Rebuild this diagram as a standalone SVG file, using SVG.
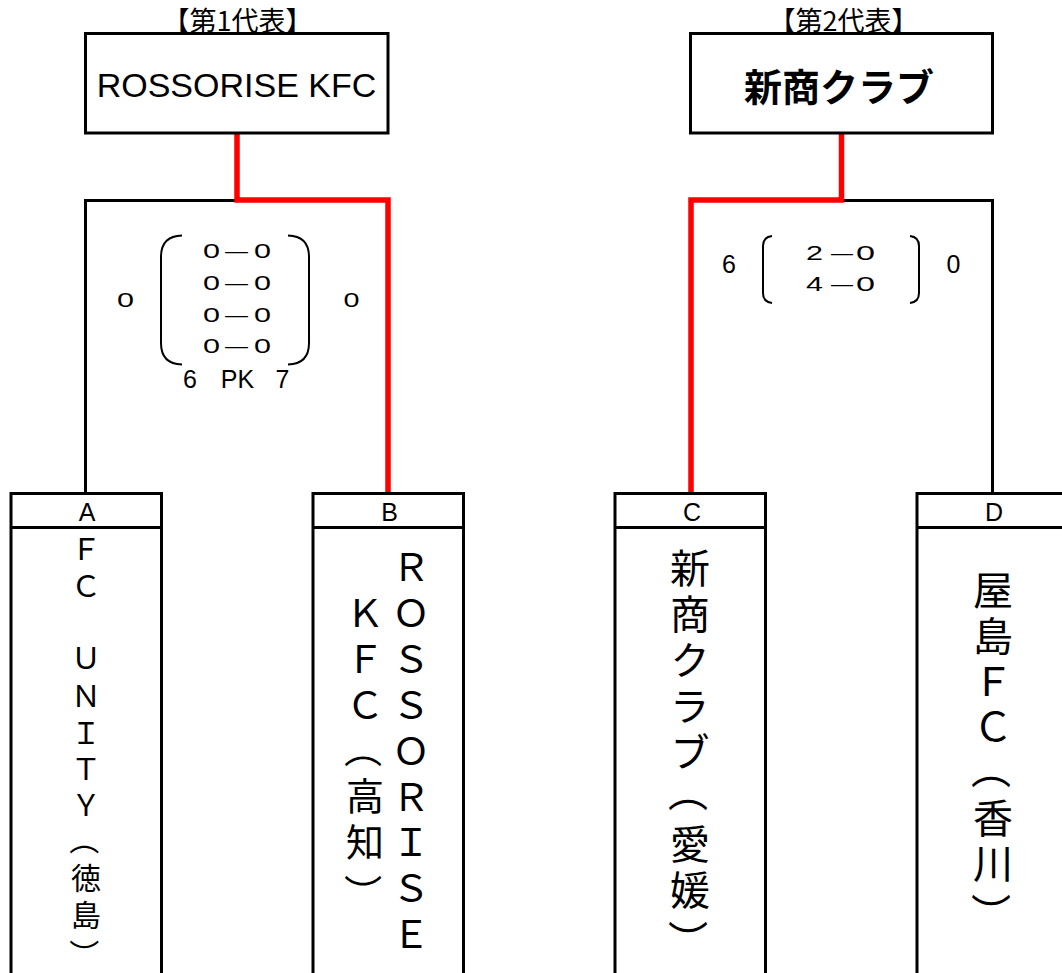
<svg xmlns="http://www.w3.org/2000/svg" width="1062" height="973" viewBox="0 0 1062 973">
<style>
.box{fill:#fff;stroke:#000;stroke-width:3}
.blk{fill:none;stroke:#000;stroke-width:3}
.red{fill:none;stroke:#ff0000;stroke-width:5.5}
.br{fill:none;stroke:#000;stroke-width:2}
.lat{font-family:"Liberation Sans",Arial,sans-serif;fill:#000}
.jp{font-family:"Noto Sans CJK JP",sans-serif;fill:#000;dominant-baseline:central;text-anchor:middle}
.mid{text-anchor:middle}
.sc{font-family:"Liberation Sans",Arial,sans-serif;fill:#000;font-size:21px}
.vt{font-family:"Noto Sans CJK JP",sans-serif;fill:#000;writing-mode:vertical-rl;text-orientation:upright;text-anchor:middle;dominant-baseline:central}
</style>
<rect width="1062" height="973" fill="#fff"/>
<g id="connectors">
<polyline class="blk" points="85.5,495 85.5,200.5 237,200.5"/>
<polyline class="red" points="237,133 237,200 388,200 388,493"/>
<polyline class="blk" points="841.5,200.5 992.5,200.5 992.5,493"/>
<polyline class="red" points="841.5,133 841.5,200 691,200 691,493"/>
</g>
<g id="winner1">
<text class="jp" x="237.5" y="19.5" font-size="27">【第1代表】</text>
<rect class="box" x="85.5" y="33.5" width="302.5" height="99.5"/>
<text class="lat mid" x="236.5" y="97" font-size="34">ROSSORISE KFC</text>
</g>
<g id="winner2">
<text class="jp" x="843.5" y="19.5" font-size="27">【第2代表】</text>
<rect class="box" x="690.5" y="33.5" width="302" height="99.5"/>
<text class="jp" x="839" y="84" font-size="38" font-weight="bold">新商クラブ</text>
</g>
<g id="score1">
<text class="sc" x="117" y="307" textLength="17" lengthAdjust="spacingAndGlyphs">0</text>
<text class="sc" x="343.5" y="307" textLength="16" lengthAdjust="spacingAndGlyphs">0</text>
<path class="br" d="M182,235.5 Q161,236 161,257 L161,343 Q161,364 182,364.5"/>
<path class="br" d="M288,235.5 Q309,236 309,257 L309,343 Q309,364 288,364.5"/>
<text class="sc" x="203" y="258" textLength="17" lengthAdjust="spacingAndGlyphs">0</text>
<text class="sc" x="225" y="258" textLength="23" lengthAdjust="spacingAndGlyphs">—</text>
<text class="sc" x="254" y="258" textLength="17" lengthAdjust="spacingAndGlyphs">0</text>
<text class="sc" x="203" y="290" textLength="17" lengthAdjust="spacingAndGlyphs">0</text>
<text class="sc" x="225" y="290" textLength="23" lengthAdjust="spacingAndGlyphs">—</text>
<text class="sc" x="254" y="290" textLength="17" lengthAdjust="spacingAndGlyphs">0</text>
<text class="sc" x="203" y="322" textLength="17" lengthAdjust="spacingAndGlyphs">0</text>
<text class="sc" x="225" y="322" textLength="23" lengthAdjust="spacingAndGlyphs">—</text>
<text class="sc" x="254" y="322" textLength="17" lengthAdjust="spacingAndGlyphs">0</text>
<text class="sc" x="203" y="353" textLength="17" lengthAdjust="spacingAndGlyphs">0</text>
<text class="sc" x="225" y="353" textLength="23" lengthAdjust="spacingAndGlyphs">—</text>
<text class="sc" x="254" y="353" textLength="17" lengthAdjust="spacingAndGlyphs">0</text>
<text class="lat mid" font-size="25"><tspan x="190" y="388">6</tspan><tspan x="237.5" y="388">PK</tspan><tspan x="282.5" y="388">7</tspan></text>
</g>
<g id="score2">
<text class="lat mid" x="729" y="273" font-size="25">6</text>
<text class="lat mid" x="953.5" y="273" font-size="25">0</text>
<path class="br" d="M772,236 Q763,237 763,246 L763,293 Q763,302 772,303"/>
<path class="br" d="M910,236 Q919,237 919,246 L919,293 Q919,302 910,303"/>
<text class="sc" x="806" y="260" textLength="17" lengthAdjust="spacingAndGlyphs">2</text>
<text class="sc" x="831" y="260" textLength="22" lengthAdjust="spacingAndGlyphs">—</text>
<text class="sc" x="856" y="260" textLength="19" lengthAdjust="spacingAndGlyphs">0</text>
<text class="sc" x="806" y="291" textLength="17" lengthAdjust="spacingAndGlyphs">4</text>
<text class="sc" x="831" y="291" textLength="22" lengthAdjust="spacingAndGlyphs">—</text>
<text class="sc" x="856" y="291" textLength="19" lengthAdjust="spacingAndGlyphs">0</text>
</g>
<g id="teamA">
<rect class="box" x="11" y="493.5" width="150.5" height="500"/>
<line class="blk" x1="11" y1="527.5" x2="161.5" y2="527.5"/>
<text class="lat mid" x="87" y="520.5" font-size="25">A</text>
<text class="vt" x="86" font-size="30"><tspan y="549">Ｆ</tspan><tspan y="586">Ｃ</tspan><tspan y="622">　</tspan><tspan y="658">Ｕ</tspan><tspan y="696">Ｎ</tspan><tspan y="733">Ｉ</tspan><tspan y="769">Ｔ</tspan><tspan y="805">Ｙ</tspan><tspan y="878">徳</tspan><tspan y="915">島</tspan></text>
<text class="jp" x="86" y="840" font-size="30" transform="rotate(90 86 840)">（</text>
<text class="jp" x="86" y="954" font-size="30" transform="rotate(90 86 954)">）</text>
</g>
<g id="teamB">
<rect class="box" x="313" y="493.5" width="150.5" height="500"/>
<line class="blk" x1="313" y1="527.5" x2="465" y2="527.5"/>
<text class="lat mid" x="389.5" y="520.5" font-size="25">B</text>
<text class="vt" x="411" font-size="38"><tspan y="567">Ｒ</tspan><tspan y="613">Ｏ</tspan><tspan y="659">Ｓ</tspan><tspan y="705">Ｓ</tspan><tspan y="751">Ｏ</tspan><tspan y="797">Ｒ</tspan><tspan y="842">Ｉ</tspan><tspan y="888">Ｓ</tspan><tspan y="934">Ｅ</tspan></text>
<text class="vt" x="365" font-size="38"><tspan y="567">　</tspan><tspan y="613">Ｋ</tspan><tspan y="659">Ｆ</tspan><tspan y="705">Ｃ</tspan><tspan y="796">高</tspan><tspan y="842">知</tspan></text>
<text class="jp" x="365" y="749" font-size="38" transform="rotate(90 365 749)">（</text>
<text class="jp" x="365" y="893" font-size="38" transform="rotate(90 365 893)">）</text>
</g>
<g id="teamC">
<rect class="box" x="615" y="493.5" width="150.5" height="500"/>
<line class="blk" x1="615" y1="527.5" x2="765.5" y2="527.5"/>
<text class="lat mid" x="692" y="520.5" font-size="25">C</text>
<text class="vt" x="690" font-size="40"><tspan y="567.5">新</tspan><tspan y="613.5">商</tspan><tspan y="659.5">ク</tspan><tspan y="705.5">ラ</tspan><tspan y="751.5">ブ</tspan><tspan y="843.5">愛</tspan><tspan y="889.5">媛</tspan></text>
<text class="jp" x="690" y="792" font-size="40" transform="rotate(90 690 792)">（</text>
<text class="jp" x="690" y="940" font-size="40" transform="rotate(90 690 940)">）</text>
</g>
<g id="teamD">
<rect class="box" x="917" y="493.5" width="150.5" height="500"/>
<line class="blk" x1="917" y1="527.5" x2="1062" y2="527.5"/>
<text class="lat mid" x="994" y="520.5" font-size="25">D</text>
<text class="vt" x="993" font-size="40"><tspan y="590">屋</tspan><tspan y="635.5">島</tspan><tspan y="681">Ｆ</tspan><tspan y="726.5">Ｃ</tspan><tspan y="817.5">香</tspan><tspan y="863">川</tspan></text>
<text class="jp" x="993" y="769" font-size="40" transform="rotate(90 993 769)">（</text>
<text class="jp" x="993" y="913" font-size="40" transform="rotate(90 993 913)">）</text>
</g>
</svg>
